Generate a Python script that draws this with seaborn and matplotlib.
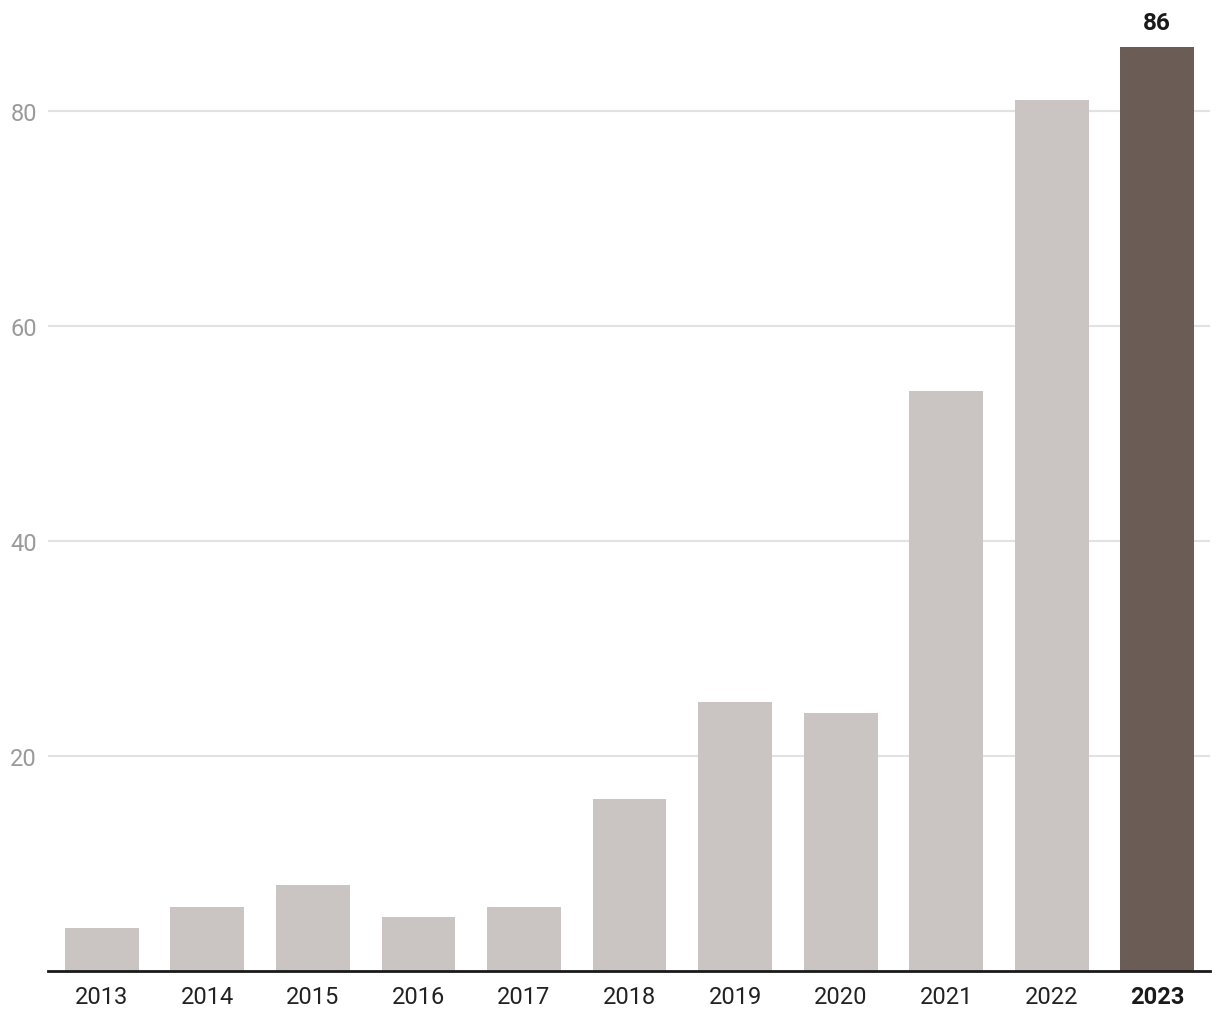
import matplotlib
matplotlib.use("Agg")
import matplotlib.pyplot as plt
import seaborn as sns
import pandas as pd

years = ["2013", "2014", "2015", "2016", "2017", "2018", "2019", "2020", "2021", "2022", "2023"]
values = [4, 6, 8, 5, 6, 16, 25, 24, 54, 81, 86]
yticks = [20, 40, 60, 80]

light = "#cac5c2"
dark = "#6b5c56"

sns.set_theme(style="white")
plt.rcParams["font.family"] = ["Roboto", "DejaVu Sans"]

df = pd.DataFrame({"year": years, "value": values})
palette = {y: (dark if y == years[-1] else light) for y in years}

fig = plt.figure(figsize=(12.2, 10.2), dpi=100)
ax = fig.add_axes([48 / 1220, 48 / 1020, (1210 - 48) / 1220, (971 - 3.5) / 1020])

sns.barplot(data=df, x="year", y="value", hue="year", palette=palette,
            order=years, hue_order=years, width=0.7, legend=False,
            saturation=1, linewidth=0, edgecolor="none", ax=ax, zorder=3)

ax.set_xlim(-0.51, 10.5)
ax.set_ylim(0, 90)
ax.set_yticks(yticks)
ax.set_yticklabels([str(t) for t in yticks])
ax.grid(axis="y", color="#e2e2e2", linewidth=1.5, zorder=0)
ax.set_axisbelow(True)
for s in ["top", "right", "left"]:
    ax.spines[s].set_visible(False)
ax.spines["bottom"].set_color("#1a1a1a")
ax.spines["bottom"].set_linewidth(2)
ax.spines["bottom"].set_zorder(5)
ax.set_xlabel("")
ax.set_ylabel("")
ax.tick_params(axis="y", length=0, pad=8, labelsize=17, labelcolor="#9a9a9a")
ax.tick_params(axis="x", length=0, pad=10, labelsize=17, labelcolor="#222222")
for lab in ax.get_xticklabels():
    if lab.get_text() == years[-1]:
        lab.set_fontweight("bold")
        lab.set_color("#1a1a1a")

ax.annotate(str(values[-1]), xy=(len(years) - 1, values[-1]), xytext=(0, 9),
            textcoords="offset points", ha="center", va="bottom",
            fontsize=17.5, fontweight="bold", color="#1a1a1a")

fig.savefig("out.png", dpi=100)
